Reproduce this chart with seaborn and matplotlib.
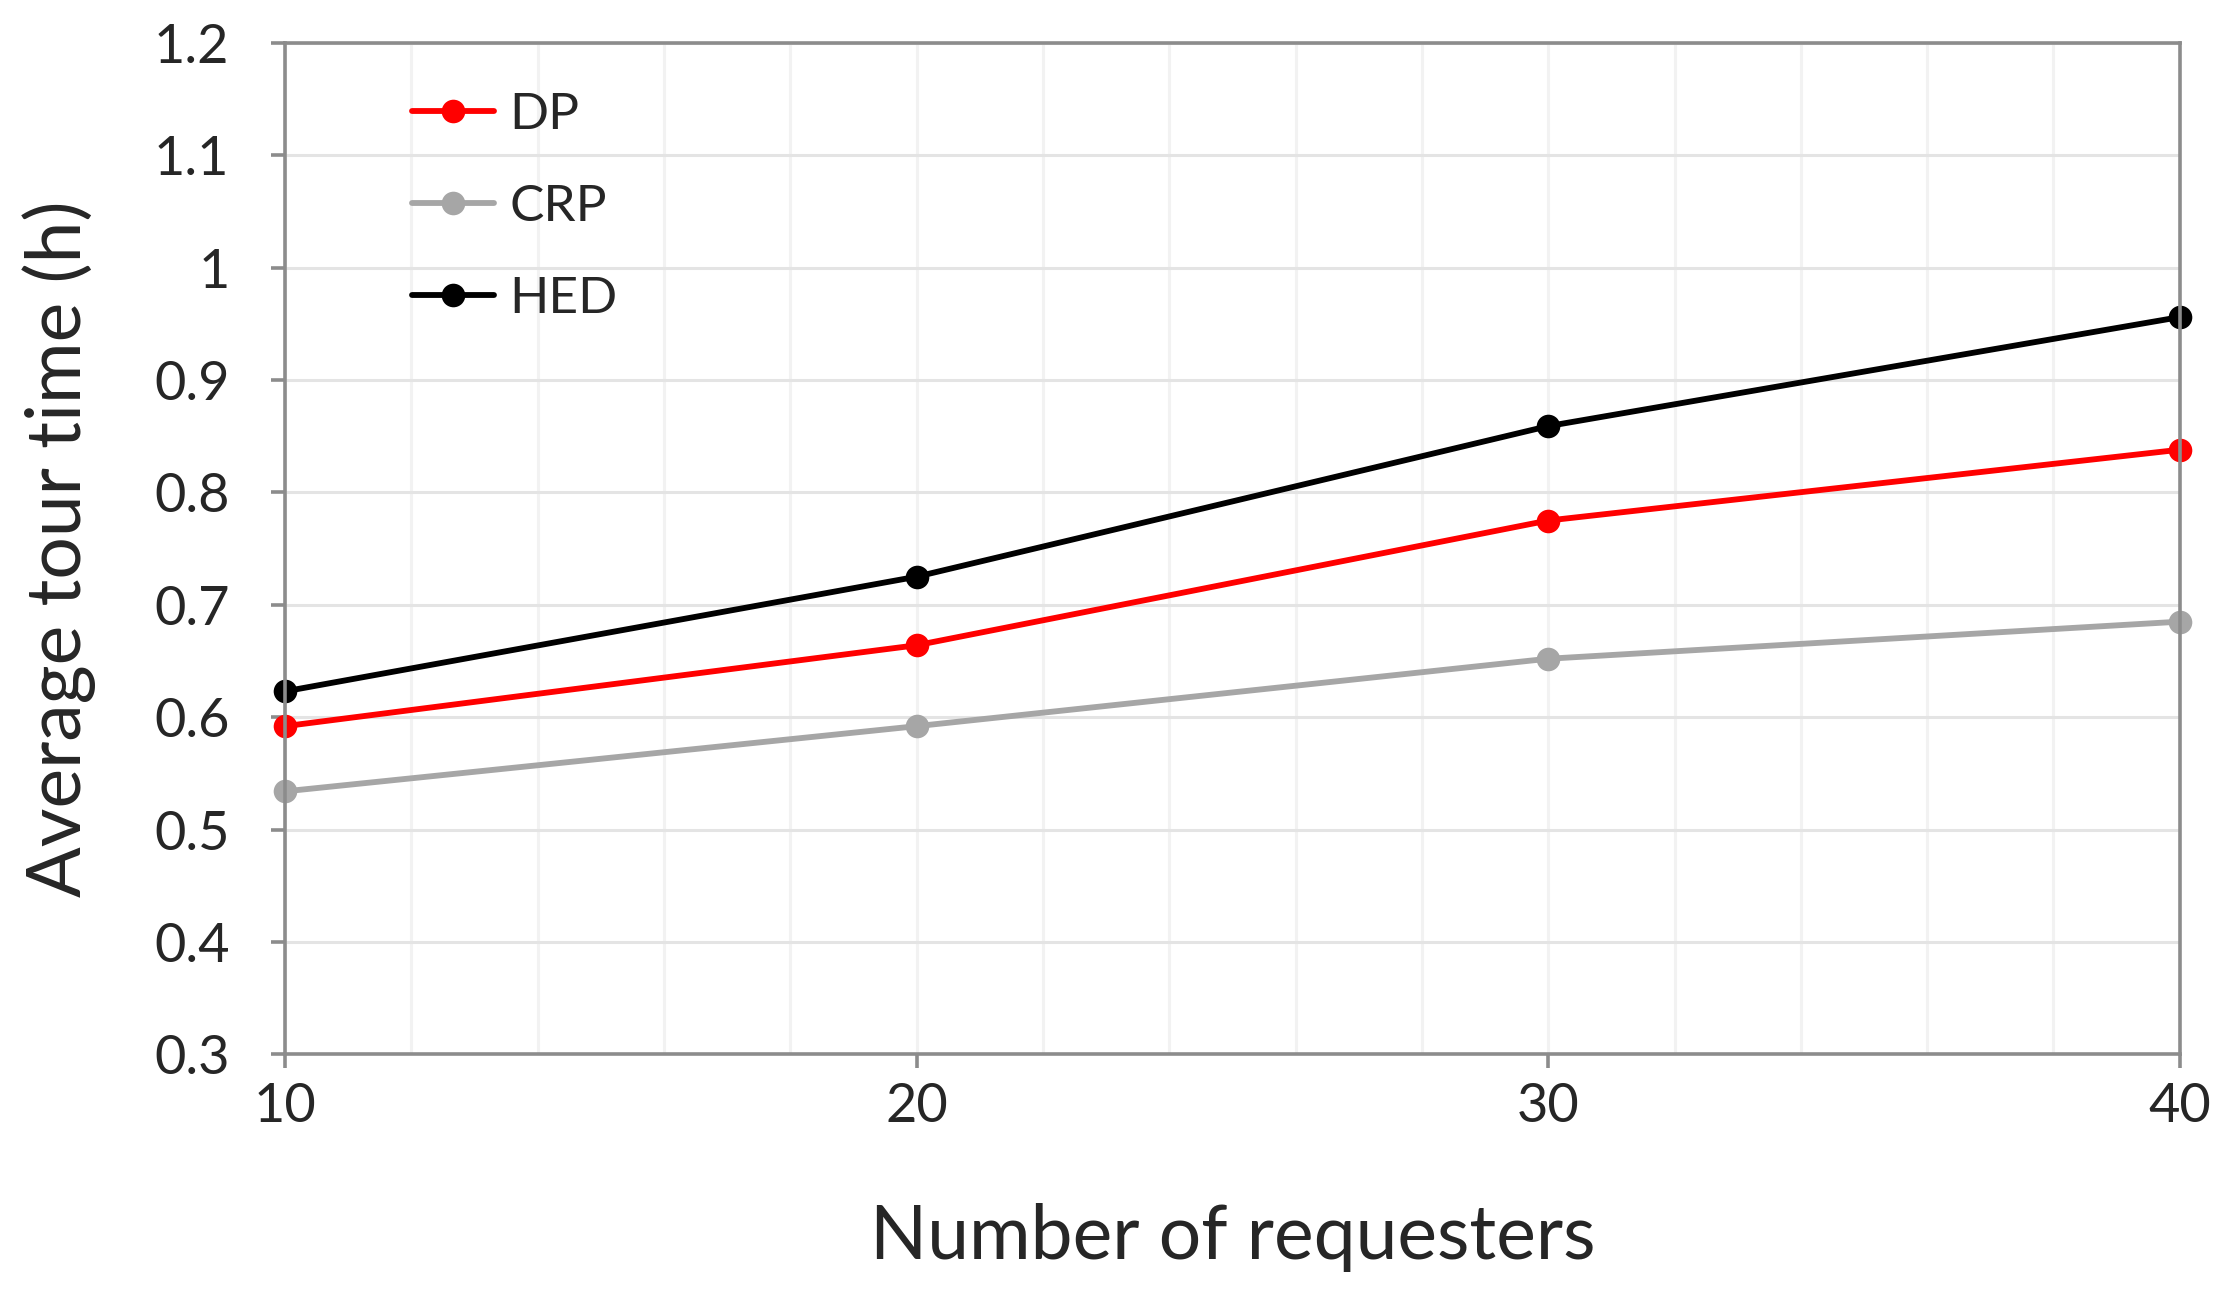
import pandas as pd
import numpy as np
import matplotlib
matplotlib.use("Agg")
import matplotlib.pyplot as plt
from matplotlib.ticker import MultipleLocator
import seaborn as sns

# data
requesters = [10, 20, 30, 40]
dp = [0.592, 0.664, 0.775, 0.838]
crp = [0.534, 0.592, 0.652, 0.685]
hed = [0.623, 0.725, 0.859, 0.956]
methods = ["DP", "CRP", "HED"]
colors = ["#ff0000", "#a6a6a6", "#000000"]

df = pd.DataFrame({
    "Number of requesters": requesters * 3,
    "time": dp + crp + hed,
    "method": [m for m in methods for _ in requesters],
})

sns.set_theme(style="white")
plt.rcParams["font.family"] = ["Lato", "DejaVu Sans"]

fig = plt.figure(figsize=(22.22, 13), dpi=100)
ax = fig.add_axes([0.1283, 0.189, 0.981 - 0.1283, 0.967 - 0.189])

# grid, Excel look
ax.yaxis.set_major_locator(MultipleLocator(0.1))
ax.xaxis.set_major_locator(MultipleLocator(10))
ax.xaxis.set_minor_locator(MultipleLocator(2))
ax.grid(axis="y", which="major", color="#e4e4e4", linewidth=2.2)
ax.grid(axis="x", which="both", color="#f2f2f2", linewidth=2.2)
ax.set_axisbelow(True)

sns.lineplot(
    data=df, x="Number of requesters", y="time", hue="method",
    palette=colors, marker="o", markersize=17, markeredgewidth=0,
    linewidth=4.2, ax=ax, clip_on=False,
)

ax.set_xlim(10, 40)
ax.set_ylim(0.3, 1.2)
ax.set_yticks(np.arange(0.3, 1.21, 0.1))
ax.set_yticklabels(["0.3", "0.4", "0.5", "0.6", "0.7", "0.8", "0.9", "1", "1.1", "1.2"])

for s in ax.spines.values():
    s.set_visible(True)
    s.set_color("#8c8c8c")
    s.set_linewidth(2.6)

ax.tick_params(axis="y", which="major", direction="out", length=10, width=2.6,
               color="#8c8c8c", pad=30, labelsize=39, left=True)
ax.tick_params(axis="x", which="major", direction="out", length=10, width=2.6,
               color="#8c8c8c", pad=10, labelsize=39, bottom=True)
ax.tick_params(axis="x", which="minor", length=0)

ax.set_xlabel("Number of requesters", fontsize=54, labelpad=52)
ax.set_ylabel("Average tour time (h)", fontsize=54, labelpad=42)

leg = ax.legend(loc="upper left", bbox_to_anchor=(0.056, 0.972), frameon=False,
                fontsize=37, handlelength=1.6, handletextpad=0.3,
                labelspacing=0.9, borderaxespad=0)
for h in leg.legend_handles:
    h.set_linewidth(4.2)

fig.savefig("out.png", dpi=100, facecolor="white")
